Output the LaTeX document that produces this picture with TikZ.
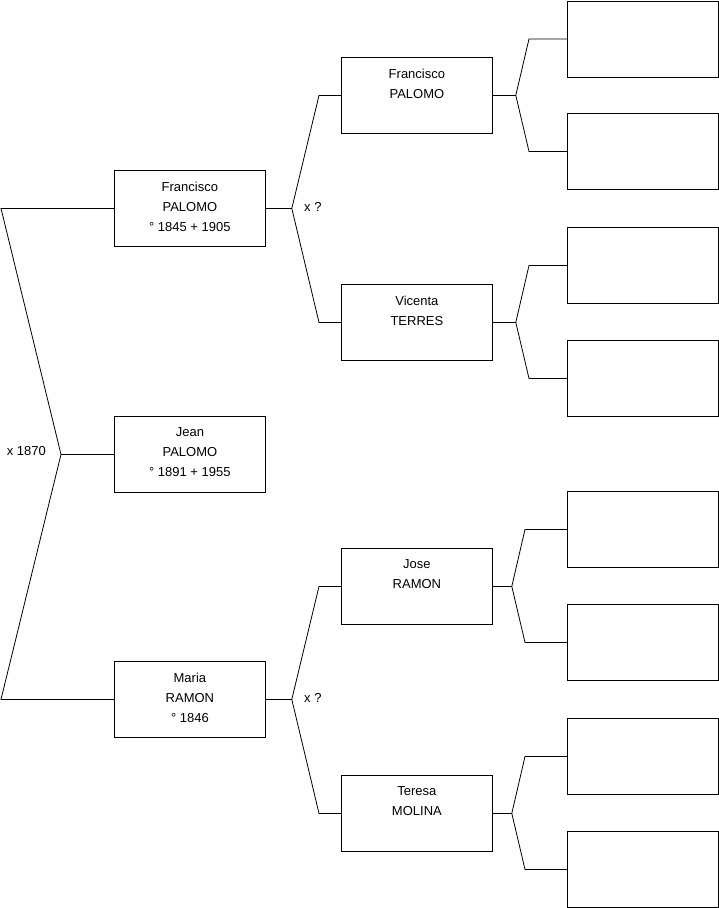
\documentclass[tikz,border=0pt]{standalone}
\usepackage{fontspec}
\setmainfont{Liberation Sans}
\begin{document}
\begin{tikzpicture}[x=1pt,y=-1pt,
  person/.style={draw, line width=0.8pt, minimum width=151pt, minimum height=76pt, inner sep=0pt, anchor=north west, align=center, font=\fontsize{13}{20}\selectfont, execute at end node={\rule[-4pt]{0pt}{4pt}}},
  link/.style={line width=0.8pt},
  lbl/.style={font=\fontsize{13}{15}\selectfont, inner sep=0pt}]
\useasboundingbox (0,0) rectangle (719,908);
% generation 1
\node[person] (jean) at (114,416) {Jean\\PALOMO\\° 1891 + 1955};
% generation 2
\node[person] (fp) at (114,170) {Francisco\\PALOMO\\° 1845 + 1905};
\node[person] (mr) at (114,661) {Maria\\RAMON\\° 1846};
% generation 3
\node[person] (f3) at (341,57) {Francisco\\PALOMO\\\mbox{}};
\node[person] (vt) at (341,284) {Vicenta\\TERRES\\\mbox{}};
\node[person] (jr) at (341,548) {Jose\\RAMON\\\mbox{}};
\node[person] (tm) at (341,775) {Teresa\\MOLINA\\\mbox{}};
% generation 4
\node[person] (e1) at (567,0.5) {};
\node[person] (e2) at (567,113) {};
\node[person] (e3) at (567,227) {};
\node[person] (e4) at (567,340) {};
\node[person] (e5) at (567,491) {};
\node[person] (e6) at (567,604) {};
\node[person] (e7) at (567,718) {};
\node[person] (e8) at (567,831) {};
% junctions
\coordinate (j0) at ([xshift=-53pt]jean.west);
\coordinate (jf) at ([xshift=26pt]fp.east);
\coordinate (jm) at ([xshift=26pt]mr.east);
\coordinate (jf3) at ([xshift=23pt]f3.east);
\coordinate (jvt) at ([xshift=23pt]vt.east);
\coordinate (jjr) at ([xshift=19pt]jr.east);
\coordinate (jtm) at ([xshift=19pt]tm.east);
% connectors
\draw[link] (jean.west) -- (j0);
\draw[link] (j0) -- ([xshift=-113pt]fp.west) -- (fp.west);
\draw[link] (j0) -- ([xshift=-113pt]mr.west) -- (mr.west);
\draw[link] (fp.east) -- (jf);
\draw[link] (jf) -- ([xshift=-22pt]f3.west) -- (f3.west);
\draw[link] (jf) -- ([xshift=-22pt]vt.west) -- (vt.west);
\draw[link] (mr.east) -- (jm);
\draw[link] (jm) -- ([xshift=-22pt]jr.west) -- (jr.west);
\draw[link] (jm) -- ([xshift=-22pt]tm.west) -- (tm.west);
\draw[link] (f3.east) -- (jf3);
\draw[link] (jf3) -- ([xshift=-38pt]e1.west) -- (e1.west);
\draw[link] (jf3) -- ([xshift=-38pt]e2.west) -- (e2.west);
\draw[link] (vt.east) -- (jvt);
\draw[link] (jvt) -- ([xshift=-38pt]e3.west) -- (e3.west);
\draw[link] (jvt) -- ([xshift=-38pt]e4.west) -- (e4.west);
\draw[link] (jr.east) -- (jjr);
\draw[link] (jjr) -- ([xshift=-42pt]e5.west) -- (e5.west);
\draw[link] (jjr) -- ([xshift=-42pt]e6.west) -- (e6.west);
\draw[link] (tm.east) -- (jtm);
\draw[link] (jtm) -- ([xshift=-42pt]e7.west) -- (e7.west);
\draw[link] (jtm) -- ([xshift=-42pt]e8.west) -- (e8.west);
% labels
\node[lbl, anchor=east] (m0) at (46,451) {x 1870};
\node[lbl, anchor=west] (m1) at (304,207) {x ?};
\node[lbl, anchor=west] (m2) at (304,698) {x ?};
\end{tikzpicture}
\end{document}
